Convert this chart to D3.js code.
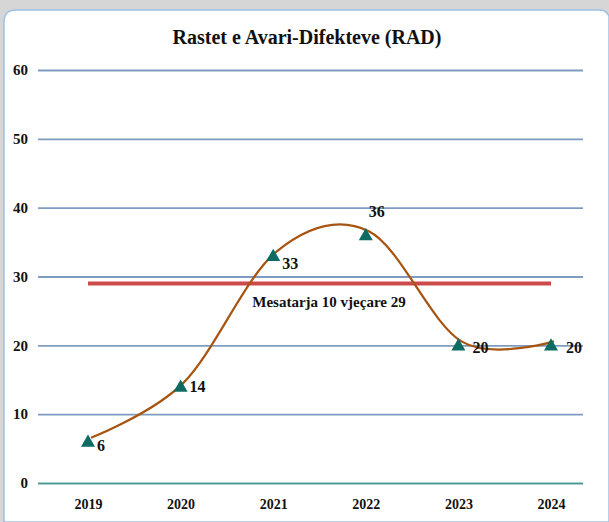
<!DOCTYPE html>
<html>
<head>
<meta charset="utf-8">
<script src="https://cdn.jsdelivr.net/npm/d3@7"></script>
<style>
  body { margin: 0; background: #fff; }
  svg { display: block; font-family: "Liberation Serif", "DejaVu Serif", serif; }
</style>
</head>
<body>
<svg width="609" height="522"></svg>
<script>
const years = ["2019", "2020", "2021", "2022", "2023", "2024"]
const cases = [6, 14, 33, 36, 20, 20]
const average = 29
const yTicks = [0, 10, 20, 30, 40, 50, 60]
const title = "Rastet e Avari-Difekteve (RAD)"
const avgLabel = "Mesatarja 10 vjeçare 29"

const svg = d3.select("svg")

// background strip + rounded panel
svg.append("rect").attr("width", 609).attr("height", 522).attr("fill", "#d6d6d6")
svg.append("path")
	.attr("d", "M4,522 L4,22 Q4,10 16,10 L600,10 Q606,10 609,16 L609,522 Z")
	.attr("fill", "#fff")
	.attr("stroke", "#9fc0e4")
	.attr("stroke-width", 1.5)

const x = d3.scalePoint().domain(years).range([88, 551])
const y = d3.scaleLinear().domain([0, 60]).range([483, 70])

svg.append("text")
	.attr("x", 307).attr("y", 44)
	.attr("text-anchor", "middle")
	.attr("font-size", 20).attr("font-weight", "bold")
	.attr("fill", "#111")
	.text(title)

// gridlines
const yAxis = d3.axisLeft(y).tickValues(yTicks).tickSize(-545).tickPadding(10)
const yAxisGroup = svg.append("g").attr("transform", "translate(38,0)").call(yAxis)
yAxisGroup.select(".domain").remove()
yAxisGroup.selectAll(".tick line")
	.attr("stroke", (d) => (d === 0 ? "#4e9a9a" : "#7f9cc0"))
	.attr("stroke-width", 1.8)
yAxisGroup.selectAll(".tick text")
	.attr("font-size", 15).attr("font-weight", "bold").attr("fill", "#111")
	.attr("font-family", "Liberation Serif, serif")

const xAxis = d3.axisBottom(x).tickSize(0).tickPadding(16)
const xAxisGroup = svg.append("g").attr("transform", "translate(0,483)").call(xAxis)
xAxisGroup.select(".domain").remove()
xAxisGroup.selectAll(".tick text")
	.attr("font-size", 14).attr("font-weight", "bold").attr("fill", "#111")
	.attr("font-family", "Liberation Serif, serif")

// average line
svg.append("line")
	.attr("x1", x(years[0])).attr("x2", x(years[years.length - 1]))
	.attr("y1", y(average)).attr("y2", y(average))
	.attr("stroke", "#cd4a4a").attr("stroke-width", 4)
svg.append("text")
	.attr("x", 329).attr("y", y(average) + 24)
	.attr("text-anchor", "middle")
	.attr("font-size", 15).attr("font-weight", "bold").attr("fill", "#111")
	.text(avgLabel)

// smooth series line
const pts = years.map((yr, i) => [x(yr) + 3, y(cases[i]) - 4])
svg.append("path")
	.datum(pts)
	.attr("d", d3.line().curve(d3.curveCatmullRom.alpha(0)))
	.attr("fill", "none")
	.attr("stroke", "#a65410")
	.attr("stroke-width", 2.2)

// markers
const tri = d3.symbol().type(d3.symbolTriangle).size(85)
svg.selectAll(".marker")
	.data(cases)
	.enter()
	.append("path")
	.attr("d", tri)
	.attr("transform", (d, i) => `translate(${x(years[i])}, ${y(d) + 1})`)
	.attr("fill", "#0d6b63")

// value labels
const labelOffsets = [[9, 9], [9, 5], [9, 13], [3, -18], [14, 8], [15, 8]]
svg.selectAll(".val")
	.data(cases)
	.enter()
	.append("text")
	.attr("x", (d, i) => x(years[i]) + labelOffsets[i][0])
	.attr("y", (d, i) => y(d) + labelOffsets[i][1])
	.attr("font-size", 16).attr("font-weight", "bold").attr("fill", "#111")
	.text((d) => d)
</script>
</body>
</html>
